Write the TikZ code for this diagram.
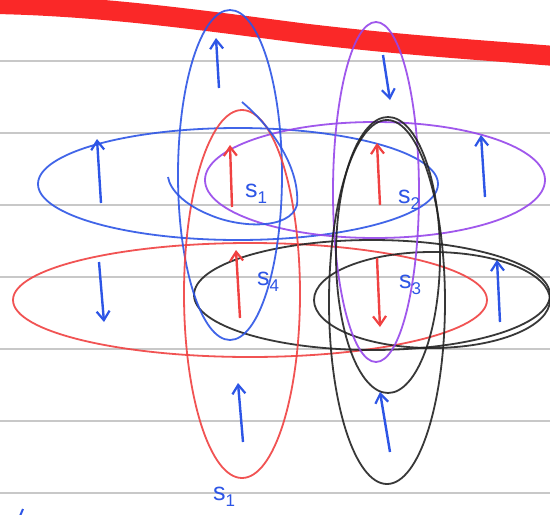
\documentclass[tikz,border=0pt]{standalone}
\usetikzlibrary{arrows.meta}
\usepackage{fontspec}
\setsansfont{Liberation Sans}
\definecolor{rule}{RGB}{200,200,200}
\definecolor{pblue}{RGB}{45,85,230}
\definecolor{ppurple}{RGB}{150,70,235}
\definecolor{pred}{RGB}{240,65,65}
\definecolor{pblack}{RGB}{35,35,35}
\definecolor{band}{RGB}{250,40,40}
\newcommand{\sitelab}[1]{s\raisebox{-6pt}{\fontsize{17}{17}\selectfont #1}}
\tikzset{
  loop/.style={line width=1.8pt, opacity=0.9},
  spin/.style={line width=2.4pt, -{Straight Barb[length=9pt,width=13pt,line width=2.2pt]}},
  lab/.style={text=pblue, font=\sffamily\fontsize{25}{25}\selectfont, inner sep=0pt}
}
\begin{document}
\begin{tikzpicture}[x=1pt,y=-1pt]
\useasboundingbox (0,0) rectangle (550,515);
\fill[white] (0,0) rectangle (550,515);
% ruled lines
\foreach \yy in {61,133,205,277,349,421,493}
  \draw[rule, line width=1.8pt] (0,\yy) -- (550,\yy);
% thick red band
\draw[band, line width=20pt] (-5,4) .. controls (100,6) and (200,20) .. (300,33) .. controls (400,45) and (480,50) .. (555,56);
% horizontal loops
\draw[loop, pblue] (238,184) ellipse [x radius=200, y radius=56];
\draw[loop, ppurple] (375,180) ellipse [x radius=170, y radius=58];
\draw[loop, pred] (250,300) ellipse [x radius=237, y radius=57];
\draw[loop, pblack] (372,295) ellipse [x radius=178, y radius=55];
\draw[loop, pblack] (432,300) ellipse [x radius=118, y radius=48];
% vertical loops
\draw[loop, pblue] (230,175) ellipse [x radius=52, y radius=165];
\draw[loop, pred] (242,294) ellipse [x radius=58, y radius=184];
\draw[loop, ppurple] (376,192) ellipse [x radius=43, y radius=170];
\draw[loop, pblack] (387,302) ellipse [x radius=58, y radius=182];
\draw[loop, pblack] (388,255) ellipse [x radius=52, y radius=138];
% extra inner blue loop
\draw[loop, pblue] (242,102) .. controls (275,130) and (300,170) .. (297,205) .. controls (290,230) and (240,228) .. (210,215) .. controls (185,205) and (170,190) .. (168,177);
% red spins at sites
\draw[spin, pred] (232,207) -- (230,145);
\draw[spin, pred] (380,205) -- (377,143);
\draw[spin, pred] (240,318) -- (236,250);
\draw[spin, pred] (377,258) -- (380,327);
% blue outer spins
\draw[spin, pblue] (219,88) -- (216,38);
\draw[spin, pblue] (383,55) -- (390,100);
\draw[spin, pblue] (101,203) -- (97,139);
\draw[spin, pblue] (485,197) -- (481,135);
\draw[spin, pblue] (99,262) -- (104,322);
\draw[spin, pblue] (500,322) -- (497,260);
\draw[spin, pblue] (243,442) -- (238,383);
\draw[spin, pblue] (390,452) -- (380,392);
% labels
\node[lab] (l1) at (256,194) {\sitelab{1}};
\node[lab] (l2) at (409,200) {\sitelab{2}};
\node[lab] (l3) at (410,285) {\sitelab{3}};
\node[lab] (l4) at (268,282) {\sitelab{4}};
\node[lab] (l5) at (224,497) {\sitelab{1}};
% small mark at bottom left
\draw[pblue, line width=2pt] (20,516) -- (23,509);
\end{tikzpicture}
\end{document}
